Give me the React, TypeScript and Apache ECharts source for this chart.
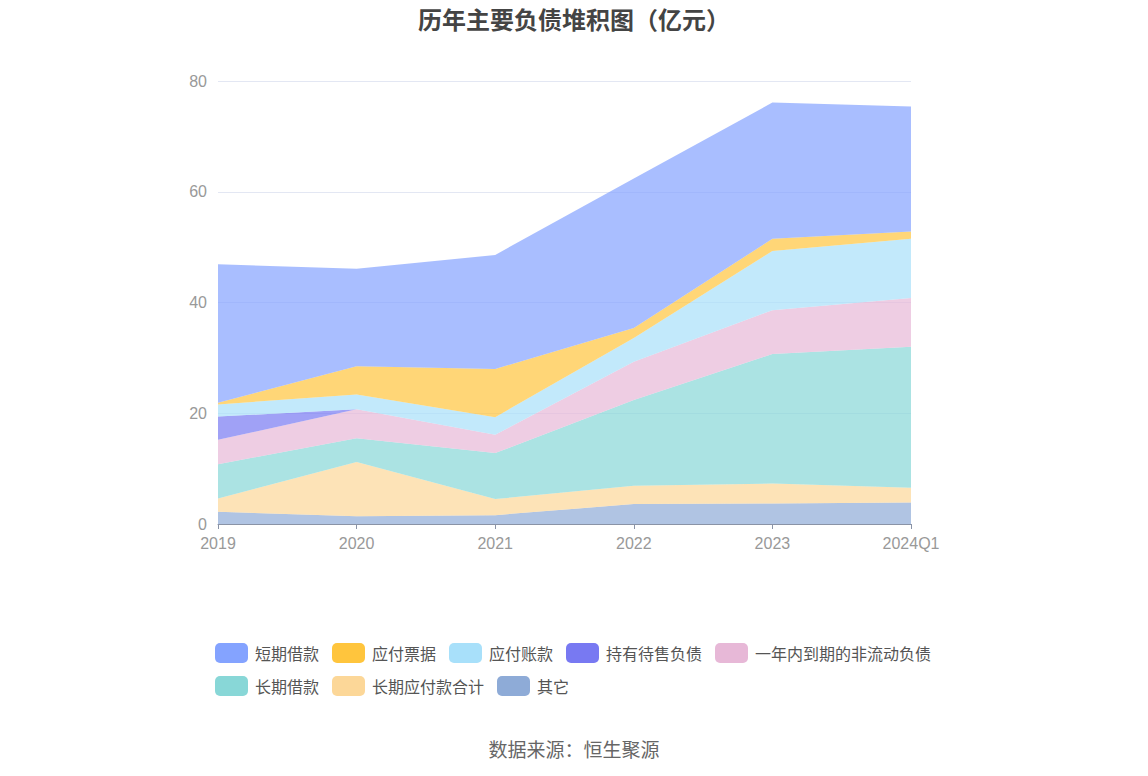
import React, { useEffect, useRef } from "react";
import * as echarts from "echarts";

const categories = ["2019", "2020", "2021", "2022", "2023", "2024Q1"];
const legendOrder = ["短期借款", "应付票据", "应付账款", "持有待售负债", "一年内到期的非流动负债", "长期借款", "长期应付款合计", "其它"];

const qita = [2.2, 1.4, 1.6, 3.6, 3.7, 3.9];
const changqiYingfu = [2.4, 9.8, 2.9, 3.3, 3.6, 2.65];
const changqiJiekuan = [6.2, 4.3, 8.3, 15.5, 23.4, 25.45];
const yinianNei = [4.4, 5.2, 3.3, 6.9, 7.9, 8.8];
const chiyouDaishou = [4.2, 0, 0, 0, 0, 0];
const yingfuZhangkuan = [2.2, 2.7, 3.2, 4.3, 10.7, 10.7];
const yingfuPiaoju = [0.3, 5.1, 8.7, 1.8, 2.2, 1.3];
const duanqiJiekuan = [25.0, 17.6, 20.6, 27.0, 24.6, 22.6];

const yTicks = { min: 0, max: 80, interval: 20 };

const stackSeries = [
  { name: "其它", data: qita, color: "#8eabd7" },
  { name: "长期应付款合计", data: changqiYingfu, color: "#fcd798" },
  { name: "长期借款", data: changqiJiekuan, color: "#88d7d7" },
  { name: "一年内到期的非流动负债", data: yinianNei, color: "#e7b8d7" },
  { name: "持有待售负债", data: chiyouDaishou, color: "#7879f2" },
  { name: "应付账款", data: yingfuZhangkuan, color: "#a8e0fa" },
  { name: "应付票据", data: yingfuPiaoju, color: "#ffc53d" },
  { name: "短期借款", data: duanqiJiekuan, color: "#84a3ff" },
];

const FONT = "'Noto Sans CJK SC', 'Noto Sans', sans-serif";
const NUM_FONT = "'Liberation Sans', Arial, sans-serif";

export default function App() {
  const ref = useRef<HTMLDivElement>(null);
  useEffect(() => {
    document.body.style.margin = "0";
    if (!ref.current) return;
    const chart = echarts.init(ref.current, undefined, { renderer: "svg" });
    chart.setOption({
      animation: false,
      textStyle: { fontFamily: FONT },
      title: [
        {
          text: "历年主要负债堆积图（亿元）",
          left: "center",
          top: 1,
          textStyle: { fontSize: 24, fontWeight: "bold", color: "#444", fontFamily: FONT },
        },
        {
          text: "数据来源：恒生聚源",
          left: "center",
          top: 734,
          textStyle: { fontSize: 19, fontWeight: "normal", color: "#666", fontFamily: FONT },
        },
      ],
      legend: {
        data: legendOrder,
        left: 210,
        top: 638,
        width: 740,
        icon: "roundRect",
        itemWidth: 33,
        itemHeight: 20,
        itemGap: 13,
        textStyle: { fontSize: 16, color: "#555", fontFamily: FONT, padding: [0, 0, 0, 2] },
      },
      grid: { left: 218, right: 237, top: 81, bottom: 252 },
      xAxis: {
        type: "category",
        data: categories,
        boundaryGap: false,
        axisLine: { lineStyle: { color: "#8a93a6" } },
        axisTick: { show: true, length: 5, lineStyle: { color: "#8a93a6" } },
        axisLabel: { fontSize: 16, lineHeight: 16, color: "#999", margin: 11, fontFamily: NUM_FONT },
      },
      yAxis: {
        type: "value",
        min: yTicks.min,
        max: yTicks.max,
        interval: yTicks.interval,
        axisLine: { show: false },
        axisTick: { show: false },
        axisLabel: { fontSize: 16, lineHeight: 14, color: "#999", margin: 11, fontFamily: NUM_FONT },
        splitLine: { lineStyle: { color: "#e3e7f3" } },
      },
      series: stackSeries.map((s) => ({
        name: s.name,
        type: "line",
        stack: "total",
        data: s.data,
        showSymbol: false,
        symbol: "none",
        lineStyle: { width: 0, color: s.color },
        itemStyle: { color: s.color },
        areaStyle: { color: s.color, opacity: 0.7 },
      })),
    });
    return () => chart.dispose();
  }, []);
  return <div ref={ref} style={{ width: 1148, height: 776 }} />;
}
